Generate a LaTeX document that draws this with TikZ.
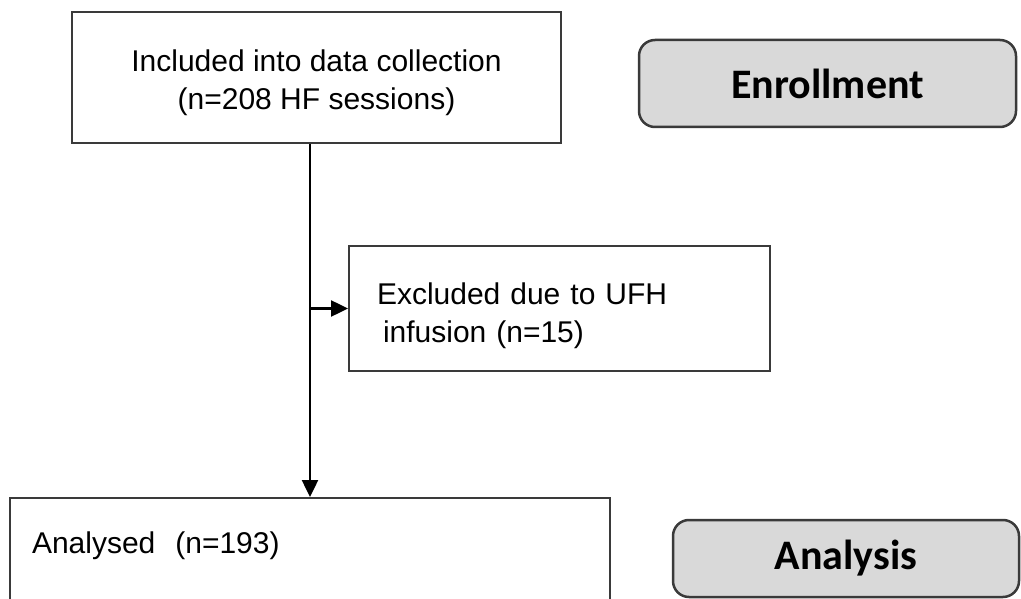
\documentclass[tikz,border=0pt]{standalone}
\usepackage{fontspec}
\setmainfont{Liberation Sans}
\newfontfamily\labelfont{Carlito}
\usetikzlibrary{arrows.meta,positioning}

\definecolor{boxline}{HTML}{3A3A3A}
\definecolor{stagefill}{HTML}{D9D9D9}

\tikzset{
  x=1pt, y=-1pt,
  flowbox/.style={draw=boxline, line width=2pt, fill=white, inner sep=0pt,
    font=\fontsize{30}{38}\selectfont},
  stagebox/.style={draw=boxline, line width=2.5pt, fill=stagefill,
    rounded corners=16pt, inner sep=0pt,
    font=\labelfont\bfseries\fontsize{42}{48}\selectfont},
  flow/.style={line width=2.5pt, black},
  tip/.style={-{Triangle[length=17pt,width=16pt]}}
}

\begin{document}
\begin{tikzpicture}
  \useasboundingbox (0,0) rectangle (1021,599);
  \clip (0,0) rectangle (1021,599);

  % main flow boxes
  \node[flowbox, minimum width=489pt, minimum height=131pt, align=center,
        text height=66pt, text depth=1pt]
    (incl) at (316.5,77.5)
    {Included into data collection\\(n=208 HF sessions)};

  \node[flowbox, minimum width=421pt, minimum height=125pt,
        inner xsep=28pt, text width=365pt, align=left,
        text height=35pt, text depth=44pt]
    (excl) at (559.5,308.5)
    {Excluded due to UFH\\\hspace*{6pt}infusion (n=15)};

  \node[flowbox, minimum width=600pt, minimum height=108pt,
        inner xsep=22pt, text width=556pt, align=left,
        text height=22pt, text depth=20pt]
    (anal) at (310,552)
    {Analysed\ \ (n=193)};

  % stage labels
  \node[stagebox, minimum width=377pt, minimum height=87pt]
    (enroll) at (827.5,83.5) {Enrollment};
  \node[stagebox, minimum width=346pt, minimum height=77pt]
    (analysis) at (846,558.5) {Analysis};

  % connectors
  \draw[flow, tip] (anal.north |- incl.south) -- (anal.north);
  \draw[flow, tip] (excl.west -| anal.north) -- (excl.west);
\end{tikzpicture}
\end{document}
